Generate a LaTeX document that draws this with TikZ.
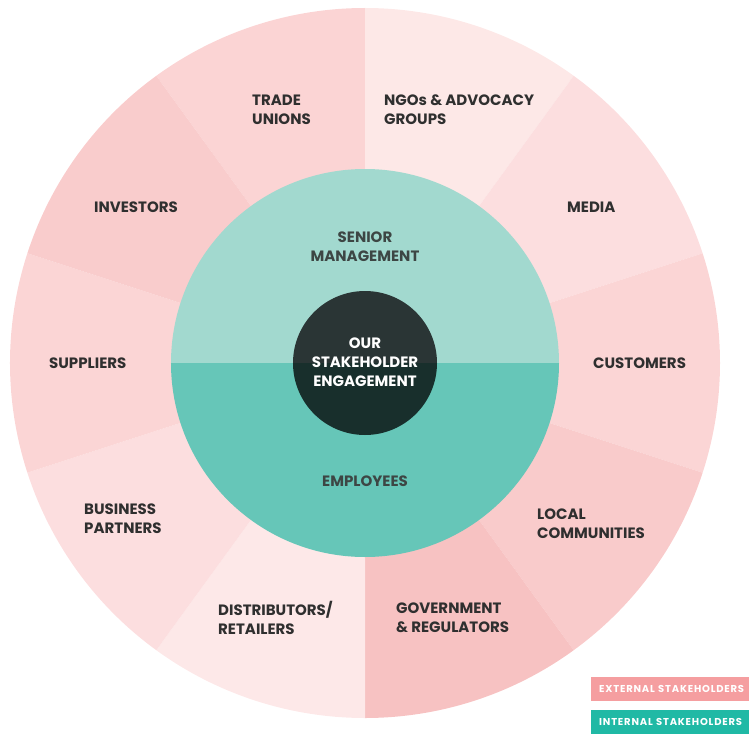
\documentclass[tikz,border=0pt]{standalone}
\usepackage{fontspec}
\setmainfont{Poppins}

\definecolor{tradecol}{HTML}{FBD4D4}
\definecolor{ngocol}{HTML}{FDE8E7}
\definecolor{mediacol}{HTML}{FCDEDF}
\definecolor{custcol}{HTML}{FBD5D5}
\definecolor{localcol}{HTML}{F9CBCB}
\definecolor{govcol}{HTML}{F7C2C2}
\definecolor{distcol}{HTML}{FDE8E8}
\definecolor{buscol}{HTML}{FCDEDF}
\definecolor{supcol}{HTML}{FBD5D5}
\definecolor{invcol}{HTML}{F9CCCC}
\definecolor{seniorcol}{HTML}{A2D9CF}
\definecolor{empcol}{HTML}{66C6B8}
\definecolor{coretop}{HTML}{2A3535}
\definecolor{corebot}{HTML}{182F2C}
\definecolor{outertext}{HTML}{2F2F2F}
\definecolor{innertext}{HTML}{3D4644}
\definecolor{extpink}{HTML}{F59EA0}
\definecolor{intteal}{HTML}{20B9A5}

\begin{document}
\begin{tikzpicture}[x = 1pt, y = 1pt,
		outer/.style = {anchor = west, align = left, inner sep = 0pt, text = outertext, font = \fontsize{15}{19}\selectfont\bfseries},
		inner/.style = {align = center, inner sep = 0pt, text = innertext, font = \fontsize{15}{19}\selectfont\bfseries},
		legend/.style = {anchor = west, align = left, text = white, text width = 190pt, inner xsep = 8pt, minimum height = 24pt, font = \fontsize{10}{12}\selectfont\bfseries\addfontfeature{LetterSpace = 8}}]
					\useasboundingbox (-365,-371) rectangle (384,363);
					% outer ring, ten sectors of 36 degrees
					\foreach \a/\c in {90/tradecol, 54/ngocol, 18/mediacol, -18/custcol, -54/localcol, -90/govcol, -126/distcol, -162/buscol, 162/supcol, 126/invcol}
						\fill[\c] (0,0) -- (\a:355) arc[start angle = \a, delta angle = 36, radius = 355] -- cycle;
					% inner ring
					\fill[seniorcol] (194,0) arc[start angle = 0, end angle = 180, radius = 194] -- cycle;
					\fill[empcol] (-194,0) arc[start angle = 180, end angle = 360, radius = 194] -- cycle;
					% core
					\fill[coretop] (72,0) arc[start angle = 0, end angle = 180, radius = 72] -- cycle;
					\fill[corebot] (-72,0) arc[start angle = 180, end angle = 360, radius = 72] -- cycle;
					\node[outer] (trade) at (-113,253.5) {TRADE\\UNIONS};
					\node[outer] (ngo) at (19,253.5) {NGOs \& ADVOCACY\\GROUPS};
					\node[outer] (media) at (202,156) {MEDIA};
					\node[outer] (cust) at (228,0) {CUSTOMERS};
					\node[outer] (local) at (172,-160.5) {LOCAL\\COMMUNITIES};
					\node[outer] (gov) at (31,-254.5) {GOVERNMENT\\\& REGULATORS};
					\node[outer] (dist) at (-147,-254.5) {DISTRIBUTORS/\\RETAILERS};
					\node[outer] (bus) at (-281,-156) {BUSINESS\\PARTNERS};
					\node[outer] (sup) at (-316,0) {SUPPLIERS};
					\node[outer] (inv) at (-271,156) {INVESTORS};
					\node[inner] (senior) at (0,116) {SENIOR\\MANAGEMENT};
					\node[inner] (emp) at (0,-118) {EMPLOYEES};
					\node[inner, text = white] (core) at (0,0.5) {OUR\\STAKEHOLDER\\ENGAGEMENT};
					\node[legend, fill = extpink] (ext) at (226,-326) {EXTERNAL STAKEHOLDERS};
					\node[legend, fill = intteal] (int) at (226,-359) {INTERNAL STAKEHOLDERS};
				\end{tikzpicture}
\end{document}
